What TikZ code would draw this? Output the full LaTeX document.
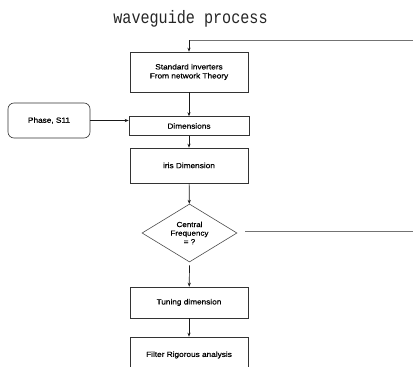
\documentclass[tikz,border=0pt]{standalone}
\usepackage{fontspec}
\setmainfont{Liberation Sans}[FakeStretch=1.1,FakeBold=0.6]
\newfontfamily\titlefont{Liberation Mono}[FakeStretch=0.84]
\usetikzlibrary{shapes.geometric,arrows.meta}
\begin{document}
\begin{tikzpicture}[x=1pt,y=-1pt,
  box/.style={draw=black!80,line width=0.6pt,minimum width=118pt,align=center,font=\fontsize{7.5}{9}\selectfont,inner sep=0pt},
  decis/.style={draw=black!70,line width=0.6pt,diamond,minimum width=95pt,minimum height=58pt,aspect=1.64,align=center,font=\fontsize{7.3}{8.6}\selectfont,inner sep=0pt},
  rbox/.style={draw=black!80,line width=0.6pt,rounded corners=6pt,minimum width=82pt,minimum height=35pt,font=\fontsize{7.5}{9}\selectfont},
  arr/.style={draw=black!90,line width=0.7pt,-{Stealth[length=4pt,width=3.2pt]}},
  fb/.style={draw=black!55,line width=0.7pt}]
\useasboundingbox (0,0) rectangle (413,367);
\clip (0,0) rectangle (413,367);
\node[font=\titlefont\fontsize{18}{18}\selectfont,text=black!85] (title) at (190.5,19) {waveguide process};
\node[box,minimum height=40pt] (b1) at (189,72) {Standard inverters\\From network Theory};
\node[box,minimum height=19pt,minimum width=120pt] (b2) at (189,126) {Dimensions};
\node[box,minimum height=35pt] (b3) at (189,165.5) {iris Dimension};
\node[decis] (d) at (189.5,233) {Central\\Frequency\\= ?};
\node[box,minimum height=31pt] (b4) at (189,302.5) {Tuning dimension};
\node[box,minimum height=36pt] (b5) at (189,355) {Filter Rigorous analysis};
\node[rbox] (p) at (49,120.5) {Phase, S11};
\coordinate (fbA) at (245,231);
\coordinate (fbB) at (425,231);
\coordinate (fbC) at (425,40);
\coordinate (fbD) at (189,40);
\draw[fb] (fbA) -- (fbB) -- (fbC) -- (fbD);
\draw[arr] (fbD) -- (b1.north);
\draw[arr] (b1) -- (b2);
\draw[arr] (b2) -- (b3);
\draw[arr] (b3) -- (d);
\draw[arr] ([yshift=-3pt]d.south) -- (b4);
\draw[arr] (b4) -- (b5);
\draw[arr] (p.east) -- (p.east -| b2.west);
\end{tikzpicture}
\end{document}
